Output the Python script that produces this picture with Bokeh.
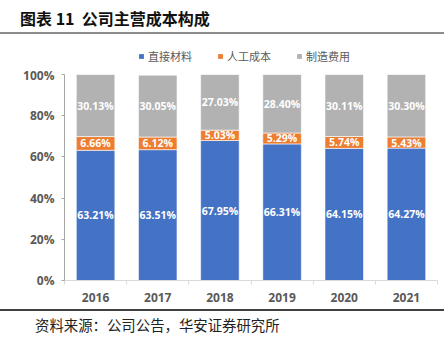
from bokeh.plotting import figure
from bokeh.models import (ColumnDataSource, Legend, LegendItem, LabelSet, Range1d,
                          FixedTicker, PrintfTickFormatter, Div)
from bokeh.layouts import column
from bokeh.embed import file_html
from bokeh.resources import INLINE
from bokeh.core.properties import value

title_text = "图表 11&nbsp;&nbsp;公司主营成本构成"
source_text = "资料来源：公司公告，华安证券研究所"
years = ["2016", "2017", "2018", "2019", "2020", "2021"]
direct_material = [63.21, 63.51, 67.95, 66.31, 64.15, 64.27]
labor_cost = [6.66, 6.12, 5.03, 5.29, 5.74, 5.43]
manufacturing_cost = [30.13, 30.05, 27.03, 28.40, 30.11, 30.30]
series_names = ["直接材料", "人工成本", "制造费用"]
colors = ["#4472C4", "#ED7D31", "#B2B2B2"]
y_ticks = [0, 20, 40, 60, 80, 100]

n = len(years)
xs = [i + 0.5 for i in range(n)]
series = [direct_material, labor_cost, manufacturing_cost]
keys = ["m", "l", "f"]
data = dict(x=xs)
for k, s in zip(keys, series):
    data[k] = s
src = ColumnDataSource(data)

NUM_FONT = "Open Sans"
CJK_FONT = "Noto Sans CJK SC"

# ---- main chart ----
p = figure(width=444, height=243, x_range=Range1d(0, n), y_range=Range1d(0, 100),
           output_backend="svg", toolbar_location=None,
           min_border_left=64, min_border_right=7, min_border_top=8, min_border_bottom=29)
p.outline_line_color = None
p.xgrid.visible = False
p.ygrid.visible = False

rs = p.vbar_stack(keys, x="x", width=0.62, fill_color=colors, source=src,
                  line_color="white", line_alpha=0.6, line_width=1)

bottoms = [0.0] * n
for vals in series:
    centers = [b + v / 2 for b, v in zip(bottoms, vals)]
    texts = [f"{v:.2f}%" for v in vals]
    ls = LabelSet(x="x", y="y", text="t",
                  source=ColumnDataSource(dict(x=xs, y=centers, t=texts)),
                  text_align="center", text_baseline="middle", text_color="white",
                  text_font_size="10.5px", text_font=value(NUM_FONT), text_font_style="bold")
    p.add_layout(ls)
    bottoms = [b + v for b, v in zip(bottoms, vals)]

yax = p.yaxis[0]
yax.ticker = FixedTicker(ticks=y_ticks)
yax.formatter = PrintfTickFormatter(format="%d%%")
yax.axis_line_color = "#A6A6A6"
yax.major_tick_line_color = "#A6A6A6"
yax.major_tick_out = 3
yax.major_tick_in = 0
yax.minor_tick_line_color = None
yax.major_label_text_font = NUM_FONT
yax.major_label_text_font_style = "bold"
yax.major_label_text_font_size = "12px"
yax.major_label_text_color = "#595959"
yax.major_label_standoff = 7

xax = p.xaxis[0]
xax.ticker = FixedTicker(ticks=xs, minor_ticks=list(range(n + 1)))
xax.major_label_overrides = {x: y for x, y in zip(xs, years)}
xax.axis_line_color = "#D9D9D9"
xax.major_tick_line_color = None
xax.major_tick_out = 0
xax.minor_tick_line_color = "#D9D9D9"
xax.minor_tick_out = 4
xax.minor_tick_in = 0
xax.major_label_text_font = NUM_FONT
xax.major_label_text_font_style = "bold"
xax.major_label_text_font_size = "12px"
xax.major_label_text_color = "#595959"
xax.major_label_standoff = 8

# ---- legend strip (swatch renderers sit outside the visible range) ----
lg = figure(width=444, height=32, x_range=Range1d(0, 1), y_range=Range1d(0, 1),
            output_backend="svg", toolbar_location=None,
            x_axis_location=None, y_axis_location=None, min_border=0)
lg.outline_line_color = None
lg.xgrid.visible = False
lg.ygrid.visible = False
swatches = [lg.vbar(x=[-5], top=[-5], bottom=[-6], width=0.1, fill_color=c, line_color=None)
            for c in colors]
items = [LegendItem(label=name, renderers=[r]) for name, r in zip(series_names, swatches)]
legend = Legend(items=items, orientation="horizontal", location=(74, 2),
                glyph_width=6, glyph_height=6, label_standoff=4, spacing=25,
                padding=0, margin=0, border_line_color=None, background_fill_alpha=0,
                label_text_font_size="11px", label_text_color="#595959",
                label_text_font=CJK_FONT, label_height=12)
lg.add_layout(legend)

title_div = Div(
    text=(f'<div style="width:444px;height:34px;box-sizing:border-box;'
          f'border-bottom:2px solid #8C8C8C;padding-left:20px;padding-top:2px;'
          f'font-family:\'{CJK_FONT}\';font-weight:bold;font-size:16px;'
          f'line-height:32px;color:#111;">{title_text}</div>'),
    width=444, height=34, margin=0)
footer_div = Div(
    text=(f'<div style="width:444px;height:30px;box-sizing:border-box;'
          f'border-top:2px solid #404040;padding-left:35px;'
          f'font-family:\'{CJK_FONT}\';font-size:14.4px;'
          f'line-height:28px;color:#222;">{source_text}</div>'),
    width=444, height=30, margin=0)

layout = column(title_div, lg, p, footer_div, spacing=0)
open("out.html", "w").write(file_html(layout, INLINE))
